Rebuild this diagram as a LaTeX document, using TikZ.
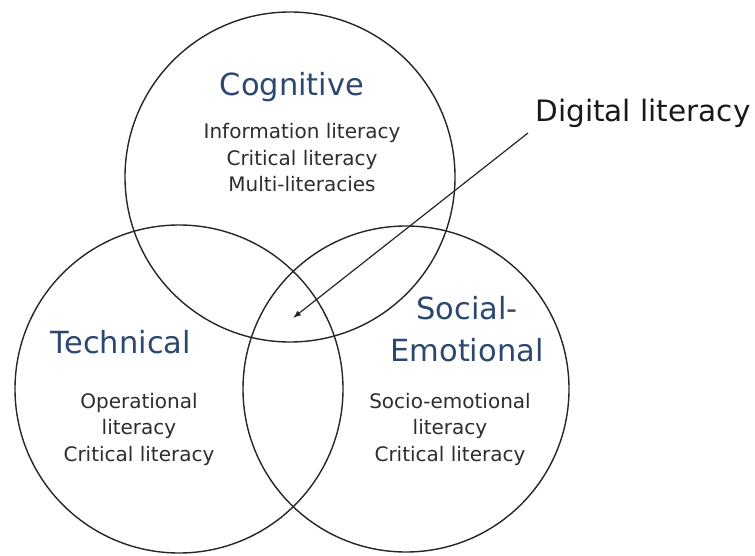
\documentclass[tikz,border=0pt]{standalone}
\usepackage{xcolor}
\usepackage{fontspec}
\setmainfont{DejaVu Sans}
\usetikzlibrary{arrows.meta}

\definecolor{titelblau}{RGB}{44,72,112}
\definecolor{textgrau}{RGB}{45,45,45}

\begin{document}
\begin{tikzpicture}[x=1pt, y=-1pt,
kreis/.style={circle, draw=black!85, line width=1.4pt, inner sep=0pt},
titel/.style={titelblau, font=\fontsize{30.5}{42}\selectfont, align=center},
liste/.style={textgrau, font=\fontsize{20}{26.5}\selectfont, align=center},
]
\useasboundingbox (0,0) rectangle (755,556);

% die drei Kreise
\node[kreis, minimum size=330pt] (kog) at (290,177) {};
\node[kreis, minimum size=328pt] (tech) at (179,389) {};
\node[kreis, minimum size=326pt] (soz) at (406,389) {};

% Texte
\node[titel] (kogtitel) at (292,87) {Cognitive};
\node[liste] (koginhalt) at (302,158) {Information literacy\\Critical literacy\\Multi-literacies};

\node[titel] (techtitel) at (121,342) {Technical};
\node[liste] (techinhalt) at (139,429) {Operational\\literacy\\Critical literacy};

\node[titel] (soztitel) at (467,329) {Social-\\Emotional};
\node[liste] (sozinhalt) at (450,429) {Socio-emotional\\literacy\\Critical literacy};

\node[black!90, font=\fontsize{29.5}{34}\selectfont] (digital) at (643,113) {Digital literacy};

% Pfeil in die Mitte
\coordinate (pfeilstart) at (528,133);
\coordinate (mitte) at (293,318);
\draw[-{Latex[length=8pt,width=6pt]}, line width=1.2pt, black!85] (pfeilstart) -- (mitte);

\end{tikzpicture}
\end{document}
